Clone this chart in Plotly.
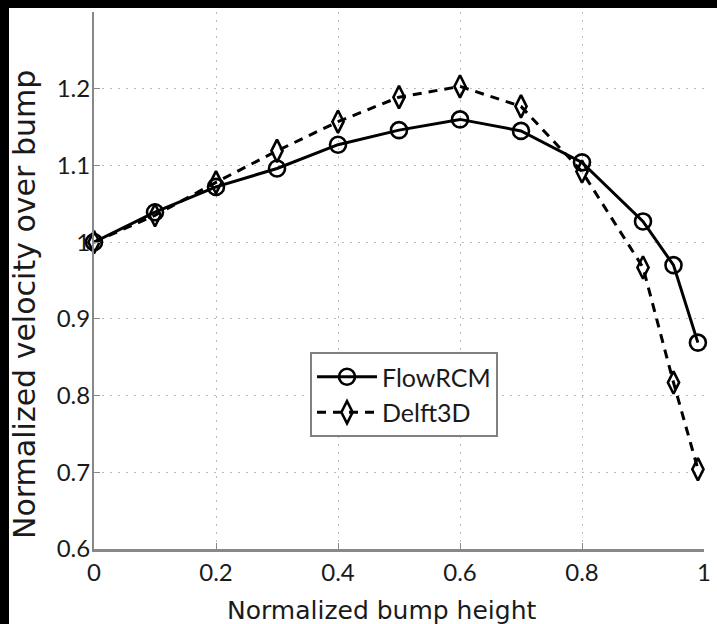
import plotly.graph_objects as go

x_vals = [0, 0.1, 0.2, 0.3, 0.4, 0.5, 0.6, 0.7, 0.8, 0.9, 0.95, 0.99]
flowrcm = [1.0, 1.039, 1.072, 1.096, 1.127, 1.146, 1.160, 1.145, 1.104, 1.027, 0.970, 0.869]
delft3d = [1.0, 1.035, 1.078, 1.119, 1.157, 1.189, 1.203, 1.177, 1.092, 0.967, 0.817, 0.704]

x_ticks = [0, 0.2, 0.4, 0.6, 0.8, 1.0]
x_labels = ["0", "0.2", "0.4", "0.6", "0.8", "1"]
y_ticks = [0.6, 0.7, 0.8, 0.9, 1.0, 1.1, 1.2]
y_labels = ["0.6", "0.7", "0.8", "0.9", "1", "1.1", "1.2"]

x_title = "Normalized bump height"
y_title = "Normalized velocity over bump"

W, H = 717, 624
ml, mr, mt, mb = 94, 13, 12, 75
pw, ph = W - ml - mr, H - mt - mb

FONT = "Lato"
TFONT = "DejaVu Sans"
TXT = "#1a1a1a"


def px_x(p):
    return (p - ml) / pw


def px_y(p):
    return 1 - (p - mt) / ph


fig = go.Figure()
fig.add_trace(go.Scatter(
    x=x_vals, y=flowrcm, name="FlowRCM", mode="lines+markers",
    line=dict(color="black", width=3),
    marker=dict(symbol="circle-open", size=16, color="black", line=dict(width=2.6)),
    cliponaxis=False,
))
fig.add_trace(go.Scatter(
    x=x_vals, y=delft3d, name="Delft3D", mode="lines+markers",
    line=dict(color="black", width=3, dash="9px,7px"),
    marker=dict(symbol="diamond-tall-open", size=16, color="black", line=dict(width=2.6)),
    cliponaxis=False,
))

# black border bands of the scanned image (top and left)
fig.add_shape(type="rect", xref="paper", yref="paper",
              x0=px_x(0), x1=px_x(W), y0=px_y(8), y1=px_y(0),
              fillcolor="black", line=dict(width=0), layer="above")
fig.add_shape(type="rect", xref="paper", yref="paper",
              x0=px_x(0), x1=px_x(9), y0=px_y(H), y1=px_y(0),
              fillcolor="black", line=dict(width=0), layer="above")

# axis titles placed as annotations to match the original positions
fig.add_annotation(text=x_title, xref="paper", yref="paper",
                   x=px_x(381), y=px_y(610), xanchor="center", yanchor="middle",
                   showarrow=False, font=dict(family=TFONT, size=25, color=TXT))
fig.add_annotation(text=y_title, xref="paper", yref="paper",
                   x=px_x(24), y=px_y(305), xanchor="center", yanchor="middle",
                   textangle=-90, showarrow=False,
                   font=dict(family=TFONT, size=30, color=TXT))

fig.update_layout(
    width=W, height=H,
    margin=dict(l=ml, r=mr, t=mt, b=mb, autoexpand=False),
    paper_bgcolor="white", plot_bgcolor="white",
    font=dict(family=FONT, size=24, color=TXT),
    showlegend=True,
    legend=dict(
        x=px_x(310), y=px_y(352), xanchor="left", yanchor="top",
        bgcolor="white", bordercolor="#808080", borderwidth=2,
        font=dict(family=FONT, size=25, color=TXT),
        tracegroupgap=0, itemwidth=60,
    ),
    xaxis=dict(
        range=[0, 1], tickvals=x_ticks, ticktext=x_labels,
        showline=True, linecolor="#888", linewidth=2.5,
        ticks="inside", ticklen=6, tickcolor="#888",
        showgrid=True, gridcolor="#bbb", griddash="2px,6px", gridwidth=1,
        zeroline=False, automargin=False,
        tickfont=dict(family=FONT, size=24, color=TXT),
    ),
    yaxis=dict(
        range=[0.6, 1.3], tickvals=y_ticks, ticktext=y_labels,
        showline=True, linecolor="#888", linewidth=2,
        ticks="inside", ticklen=6, tickcolor="#888",
        showgrid=True, gridcolor="#bbb", griddash="2px,6px", gridwidth=1,
        zeroline=False, automargin=False, ticklabelstandoff=-3,
        tickfont=dict(family=FONT, size=24, color=TXT),
    ),
)

fig.write_html("out.html")
